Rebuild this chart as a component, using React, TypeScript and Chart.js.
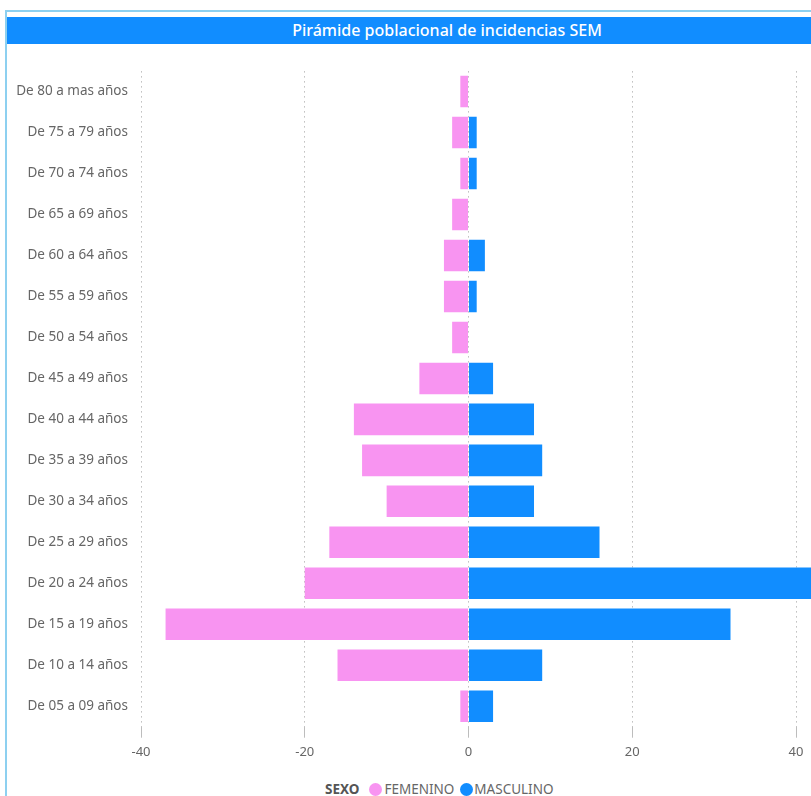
import React, { useEffect, useRef } from "react";
import { Chart, registerables } from "chart.js";

Chart.register(...registerables);

const title = "Pirámide poblacional de incidencias SEM";
const categories = [
  "De 80 a mas años",
  "De 75 a 79 años",
  "De 70 a 74 años",
  "De 65 a 69 años",
  "De 60 a 64 años",
  "De 55 a 59 años",
  "De 50 a 54 años",
  "De 45 a 49 años",
  "De 40 a 44 años",
  "De 35 a 39 años",
  "De 30 a 34 años",
  "De 25 a 29 años",
  "De 20 a 24 años",
  "De 15 a 19 años",
  "De 10 a 14 años",
  "De 05 a 09 años",
];
const femenino = [1, 2, 1, 2, 3, 3, 2, 6, 14, 13, 10, 17, 20, 37, 16, 1];
const masculino = [0, 1, 1, 0, 2, 1, 0, 3, 8, 9, 8, 16, 44, 32, 9, 3];
const legendTitle = "SEXO";
const seriesNames = ["FEMENINO", "MASCULINO"];
const xMin = -40;
const xMax = 41.83;
const xStep = 20;

const PINK = "#F894F1";
const BLUE = "#118DFF";
const GREY = "#666666";
const FONT = "'Noto Sans', 'Open Sans', sans-serif";

export default function App() {
  const ref = useRef<HTMLCanvasElement | null>(null);

  useEffect(() => {
    if (!ref.current) return;
    const chart = new Chart(ref.current, {
      type: "bar",
      data: {
        labels: categories,
        datasets: [
          {
            label: seriesNames[0],
            data: femenino.map((v) => -v),
            backgroundColor: PINK,
            barPercentage: 0.77,
            categoryPercentage: 1,
          },
          {
            label: seriesNames[1],
            data: masculino,
            backgroundColor: BLUE,
            barPercentage: 0.77,
            categoryPercentage: 1,
          },
        ],
      },
      options: {
        indexAxis: "y",
        animation: false,
        responsive: false,
        maintainAspectRatio: false,
        layout: { padding: { top: 15.3, left: 0, right: 0, bottom: 0 } },
        plugins: {
          legend: { display: false },
          tooltip: { enabled: false },
          title: { display: false },
        },
        scales: {
          x: {
            stacked: true,
            min: xMin,
            max: xMax,
            border: { display: false, dash: [1.5, 3.5] },
            grid: {
              color: "#BDBDBD",
              lineWidth: 1,
              tickLength: 11,
              drawTicks: true,
            },
            ticks: {
              stepSize: xStep,
              includeBounds: false,
              padding: 7,
              color: GREY,
              font: { family: FONT, size: 13 },
              maxRotation: 0,
            },
            afterFit: (axis: any) => {
              axis.height = 43.3;
            },
          },
          y: {
            stacked: true,
            border: { display: false },
            grid: { display: false, drawTicks: false },
            ticks: {
              padding: 13,
              color: GREY,
              font: { family: FONT, size: 13.5 },
            },
            afterFit: (axis: any) => {
              axis.width = 141;
            },
          },
        },
      },
    } as any);
    return () => chart.destroy();
  }, []);

  return (
    <div
      style={{
        position: "absolute",
        left: 0,
        top: 0,
        width: 811,
        height: 796,
        overflow: "hidden",
        background: "#ffffff",
        fontFamily: FONT,
      }}
    >
      <div
        style={{
          position: "absolute",
          left: 5,
          top: 10,
          width: 900,
          height: 800,
          borderTop: "2px solid #8DD0F0",
          borderLeft: "2px solid #8DD0F0",
          boxSizing: "border-box",
        }}
      />
      <div
        style={{
          position: "absolute",
          left: 7,
          top: 17,
          width: 880,
          height: 27,
          background: BLUE,
          color: "#ffffff",
          fontSize: 16,
          fontWeight: 500,
          lineHeight: "27px",
          textAlign: "center",
          fontFamily: FONT,
        }}
      >
        {title}
      </div>
      <canvas
        ref={ref}
        width={811}
        height={720}
        style={{ position: "absolute", left: 0, top: 50, width: 811, height: 720 }}
      />
      <div
        style={{
          position: "absolute",
          left: 325,
          top: 780,
          height: 18,
          display: "flex",
          alignItems: "center",
          fontSize: 13.5,
          color: GREY,
          whiteSpace: "nowrap",
        }}
      >
        <span style={{ fontWeight: "bold", color: "#555", marginRight: 10 }}>{legendTitle}</span>
        <span
          style={{
            width: 13,
            height: 13,
            borderRadius: "50%",
            background: PINK,
            display: "inline-block",
            marginRight: 2,
          }}
        />
        <span style={{ marginRight: 6 }}>{seriesNames[0]}</span>
        <span
          style={{
            width: 13,
            height: 13,
            borderRadius: "50%",
            background: BLUE,
            display: "inline-block",
            marginRight: 1,
          }}
        />
        <span>{seriesNames[1]}</span>
      </div>
    </div>
  );
}
